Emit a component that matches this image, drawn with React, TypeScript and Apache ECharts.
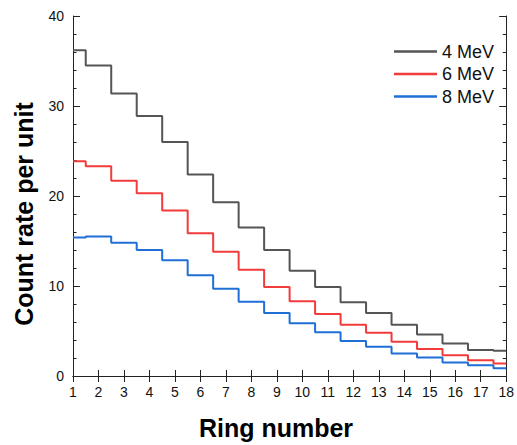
import React, { useEffect, useRef } from "react";
import * as echarts from "echarts";

const rings = [1, 2, 3, 4, 5, 6, 7, 8, 9, 10, 11, 12, 13, 14, 15, 16, 17, 18];
const mev4 = [36.2, 34.5, 31.4, 28.9, 26.0, 22.4, 19.3, 16.5, 14.0, 11.7, 9.9, 8.2, 7.0, 5.7, 4.6, 3.6, 2.9, 2.8];
const mev6 = [23.85, 23.3, 21.7, 20.3, 18.4, 15.85, 13.8, 11.8, 9.9, 8.3, 6.9, 5.7, 4.8, 3.8, 3.0, 2.3, 1.75, 1.4];
const mev8 = [15.4, 15.5, 14.8, 14.0, 12.85, 11.2, 9.7, 8.25, 7.0, 5.85, 4.85, 3.9, 3.25, 2.5, 2.05, 1.5, 1.2, 0.85];
const seriesNames = ["4 MeV", "6 MeV", "8 MeV"];
const colors = ["#555555", "#f23b3b", "#1f6fd6"];
const xTitle = "Ring number";
const yTitle = "Count rate per unit";

const FONT = "Liberation Sans, Arial, Helvetica, sans-serif";

export default function App() {
  const ref = useRef<HTMLDivElement>(null);
  useEffect(() => {
    if (!ref.current) return;
    const chart = echarts.init(ref.current, null, { renderer: "svg" });
    const axisLine = { show: true, lineStyle: { color: "#222", width: 1 } };
    const toPairs = (vals: number[]) => rings.map((r, i) => [r, vals[i]]);
    const data = [mev4, mev6, mev8];
    chart.setOption({
      animation: false,
      textStyle: { fontFamily: FONT },
      grid: { left: 73, right: 8, top: 16, bottom: 69 },
      legend: {
        orient: "vertical",
        left: 389,
        top: 37.5,
        icon: "rect",
        itemWidth: 43,
        itemHeight: 2.5,
        itemGap: 4.5,
        itemTextGap: 4,
        textStyle: { fontSize: 18, color: "#111", fontFamily: FONT },
        data: seriesNames,
      },
      xAxis: [
        {
          type: "value",
          min: 1,
          max: 18,
          interval: 1,
          position: "bottom",
          axisLine,
          axisTick: { show: true, inside: true, length: 6, lineStyle: { color: "#222" } },
          axisLabel: { fontSize: 14, color: "#111", margin: 9, fontFamily: FONT },
          splitLine: { show: false },
        },
        {
          type: "value",
          min: 1,
          max: 18,
          interval: 1,
          position: "top",
          axisLine,
          axisTick: { show: true, inside: true, length: 6, lineStyle: { color: "#222" } },
          axisLabel: { show: false },
          splitLine: { show: false },
        },
      ],
      yAxis: [
        {
          type: "value",
          min: 0,
          max: 40,
          interval: 10,
          position: "left",
          axisLine,
          axisTick: { show: true, inside: true, length: 7, lineStyle: { color: "#222" } },
          minorTick: { show: true, splitNumber: 5, length: 3.5, lineStyle: { color: "#222" } },
          axisLabel: { fontSize: 14, color: "#111", margin: 9, fontFamily: FONT },
          splitLine: { show: false },
        },
        {
          type: "value",
          min: 0,
          max: 40,
          interval: 10,
          position: "right",
          axisLine,
          axisTick: { show: true, inside: true, length: 7, lineStyle: { color: "#222" } },
          minorTick: { show: true, splitNumber: 5, length: 3.5, lineStyle: { color: "#222" } },
          axisLabel: { show: false },
          splitLine: { show: false },
        },
      ],
      series: data.map((vals, i) => ({
        name: seriesNames[i],
        type: "line",
        step: "middle",
        symbol: "none",
        xAxisIndex: 0,
        yAxisIndex: 0,
        data: toPairs(vals),
        lineStyle: { color: colors[i], width: 2 },
        itemStyle: { color: colors[i] },
        z: 3 - i,
      })),
      graphic: [
        {
          type: "text",
          x: 24,
          y: 214,
          rotation: Math.PI / 2,
          style: {
            text: yTitle,
            align: "center",
            verticalAlign: "middle",
            font: `bold 25px ${FONT}`,
            fill: "#000",
          },
        },
        {
          type: "text",
          x: 276,
          y: 428,
          style: {
            text: xTitle,
            align: "center",
            verticalAlign: "middle",
            font: `bold 25px ${FONT}`,
            fill: "#000",
          },
        },
      ],
    });
    return () => chart.dispose();
  }, []);
  return <div ref={ref} style={{ width: 517, height: 445, position: "absolute", left: 0, top: 0 }} />;
}
